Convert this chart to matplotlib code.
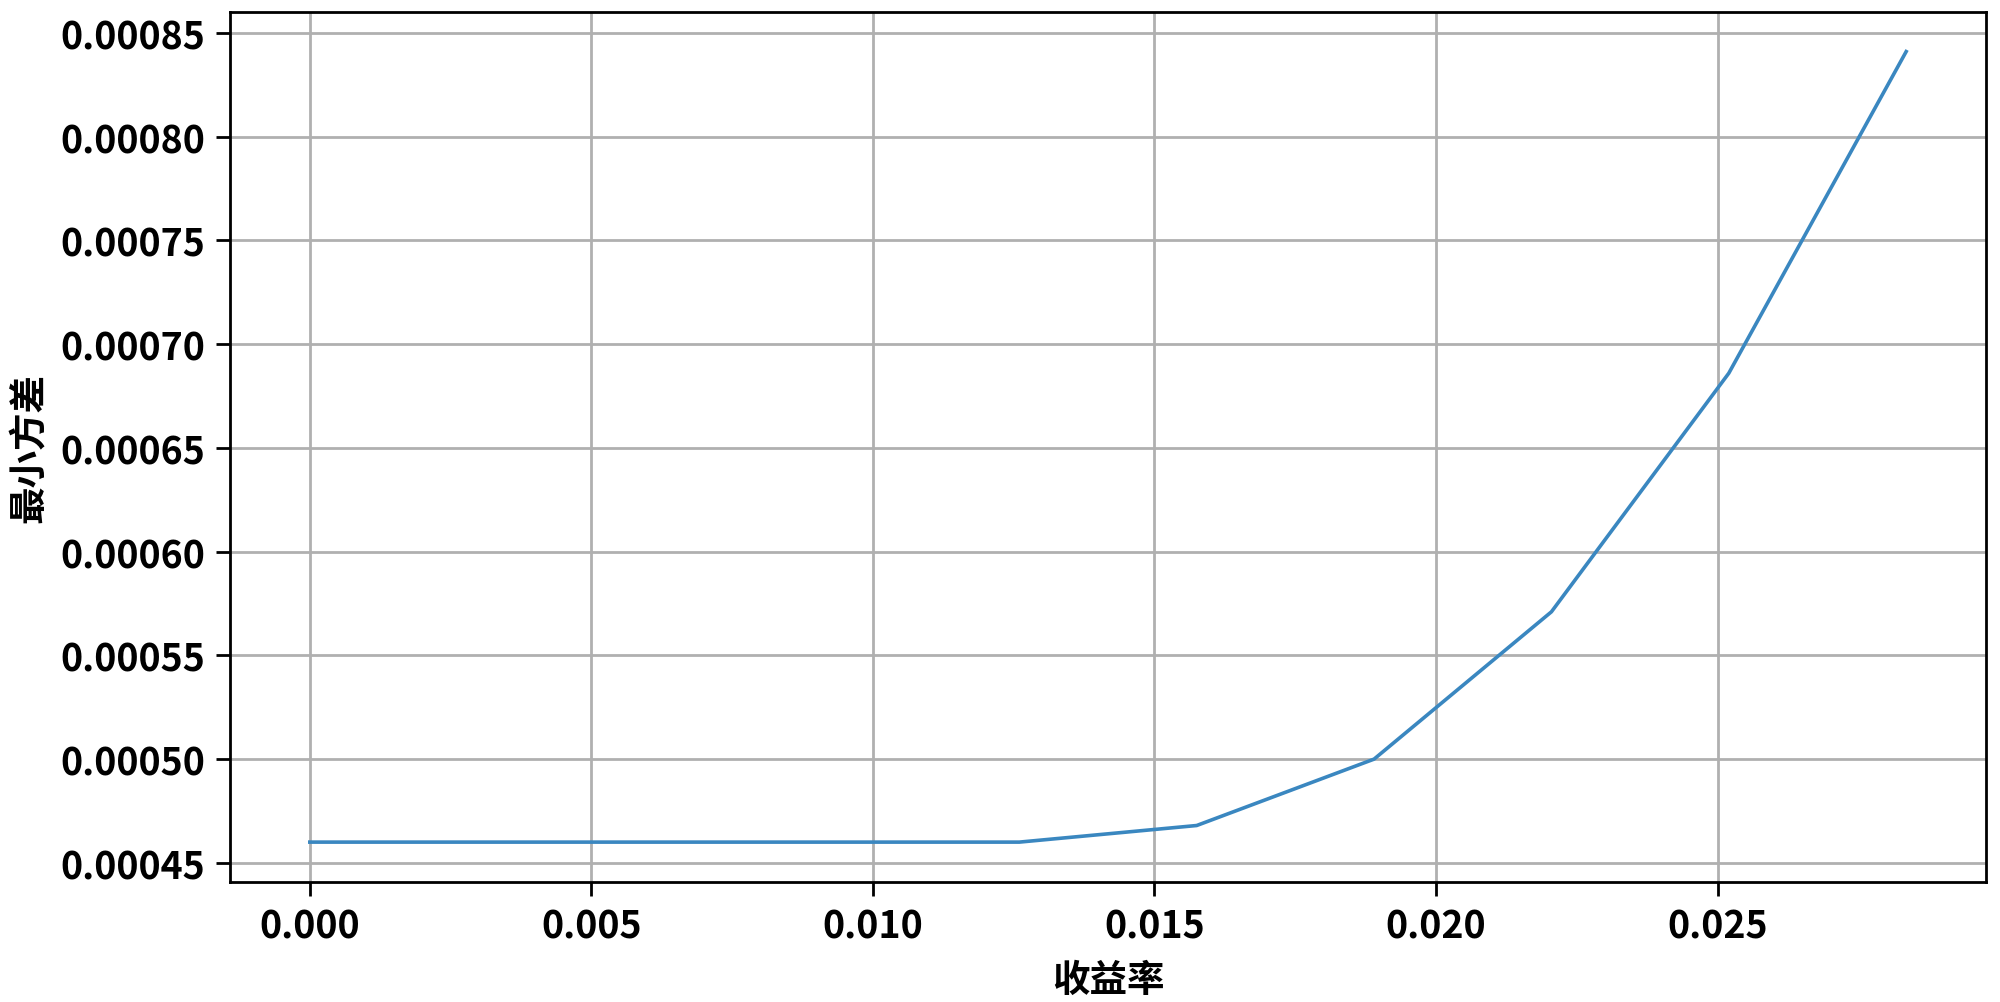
import matplotlib
matplotlib.use('Agg')
import matplotlib.pyplot as plt

plt.rcParams['font.family'] = ['Noto Sans CJK SC', 'DejaVu Sans']
plt.rcParams['axes.unicode_minus'] = False

# 收益率 / 最小方差
returns = [0.0, 0.00315, 0.0063, 0.00945, 0.0126, 0.01575, 0.0189, 0.02205, 0.0252, 0.02835]
min_var = [0.000460, 0.000460, 0.000460, 0.000460, 0.000460,
           0.000468, 0.000500, 0.000571, 0.000686, 0.000841]

fig = plt.figure(figsize=(20, 10.03), dpi=100)
ax = fig.add_axes([0.115, 0.120, 0.878, 0.867])

ax.plot(returns, min_var, color='#3a87c0', linewidth=2.6)
ax.grid(True, color='#b0b0b0', linewidth=2)

ax.set_xticks([0.0, 0.005, 0.010, 0.015, 0.020, 0.025])
ax.set_yticks([0.00045, 0.0005, 0.00055, 0.0006, 0.00065, 0.0007, 0.00075, 0.0008, 0.00085])
ax.set_xticklabels(['0.000', '0.005', '0.010', '0.015', '0.020', '0.025'])
ax.set_yticklabels(['0.00045', '0.00050', '0.00055', '0.00060', '0.00065',
                    '0.00070', '0.00075', '0.00080', '0.00085'])

ax.tick_params(labelsize=27, length=10, width=2, pad=8)
for lab in ax.get_xticklabels() + ax.get_yticklabels():
    lab.set_fontweight('bold')
for sp in ax.spines.values():
    sp.set_linewidth(2)

ax.set_xlabel('收益率', fontsize=27, fontweight='bold', labelpad=10)
ax.set_ylabel('最小方差', fontsize=27, fontweight='bold', labelpad=8)

fig.savefig('out.png', dpi=100)
